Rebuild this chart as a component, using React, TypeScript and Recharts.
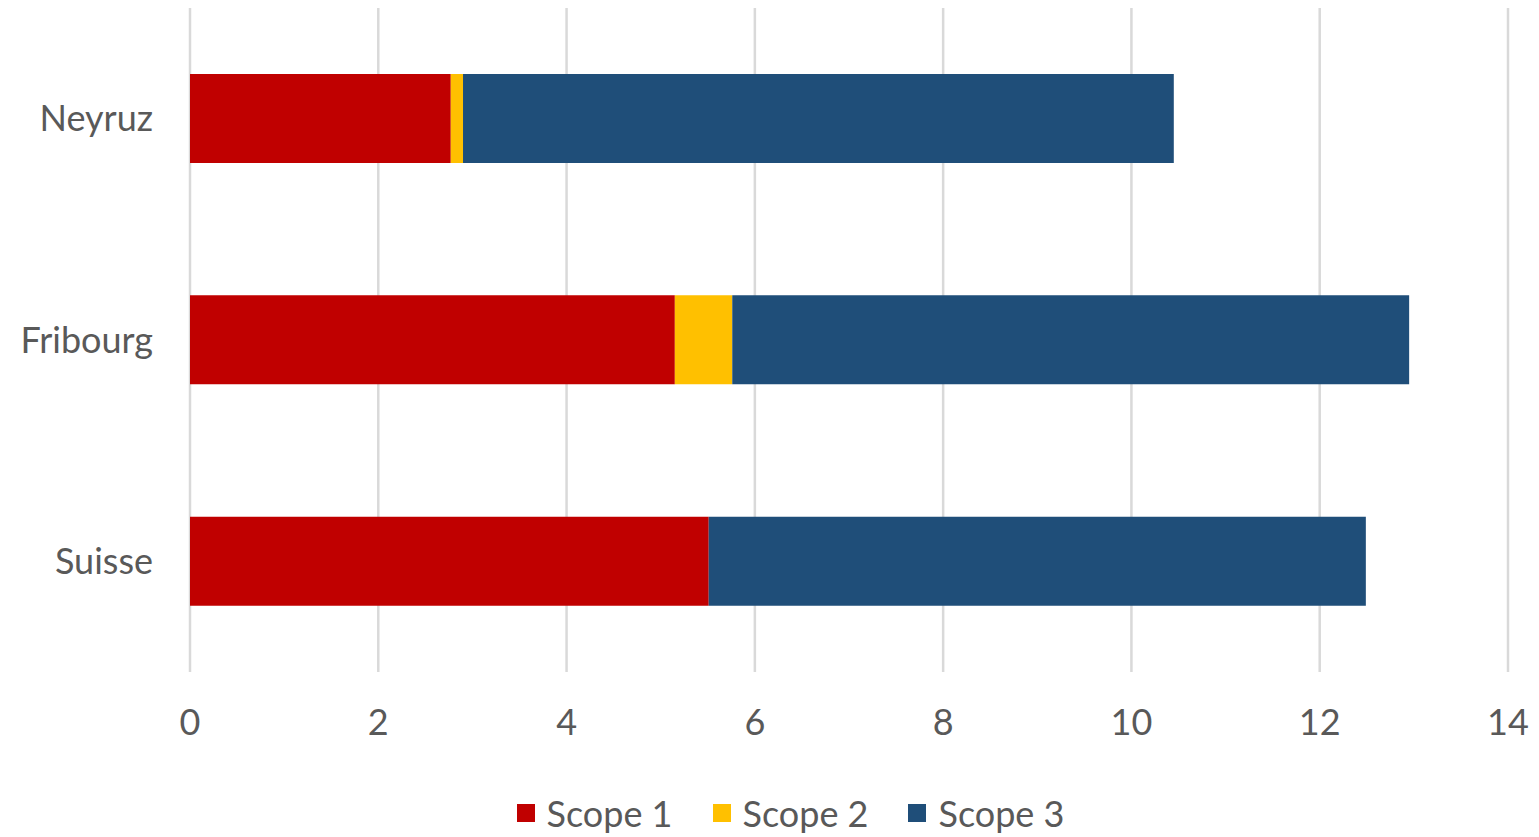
import { Bar, BarChart, CartesianGrid, Legend, XAxis, YAxis } from 'recharts'

const categories = ['Neyruz', 'Fribourg', 'Suisse']
const scope1 = [2.77, 5.15, 5.51]
const scope2 = [0.13, 0.61, 0]
const scope3 = [7.55, 7.19, 6.98]
const xTicks = [0, 2, 4, 6, 8, 10, 12, 14]

const series = [
  { key: 'scope1', label: 'Scope 1', color: '#C00000' },
  { key: 'scope2', label: 'Scope 2', color: '#FFC000' },
  { key: 'scope3', label: 'Scope 3', color: '#1F4E79' },
]

const data = categories.map((name, i) => ({
  name,
  scope1: scope1[i],
  scope2: scope2[i],
  scope3: scope3[i],
}))

const font = 'Lato, "Open Sans", sans-serif'
const axisTick = { fill: '#595959', fontSize: 36, fontFamily: font }

function LegendBox() {
  return (
    <div
      style={{
        display: 'flex',
        justifyContent: 'center',
        alignItems: 'center',
        height: 40,
        paddingLeft: 73,
        fontFamily: font,
        fontSize: 36,
        color: '#595959',
      }}
    >
      {series.map((s) => (
        <div key={s.key} style={{ display: 'flex', alignItems: 'center', margin: '0 20px' }}>
          <span style={{ width: 18, height: 18, background: s.color, marginRight: 12, display: 'inline-block' }} />
          <span>{s.label}</span>
        </div>
      ))}
    </div>
  )
}

export default function App() {
  return (
    <div style={{ position: 'absolute', left: 0, top: 0, background: '#ffffff' }}>
      <BarChart
        width={1539}
        height={837}
        data={data}
        layout="vertical"
        margin={{ top: 8, right: 31, left: 0, bottom: 0 }}
      >
        <CartesianGrid horizontal={false} stroke="#d9d9d9" strokeWidth={2.5} />
        <XAxis
          type="number"
          domain={[0, 14]}
          ticks={xTicks}
          interval={0}
          axisLine={false}
          tickLine={false}
          tickMargin={31}
          height={125}
          tick={axisTick}
        />
        <YAxis
          type="category"
          dataKey="name"
          width={190}
          axisLine={false}
          tickLine={false}
          tickMargin={31}
          tick={axisTick}
        />
        <Legend verticalAlign="bottom" wrapperStyle={{ bottom: 4 }} content={() => <LegendBox />} />
        {series.map((s) => (
          <Bar
            key={s.key}
            dataKey={s.key}
            name={s.label}
            stackId="a"
            fill={s.color}
            barSize={89}
            isAnimationActive={false}
          />
        ))}
      </BarChart>
    </div>
  )
}
